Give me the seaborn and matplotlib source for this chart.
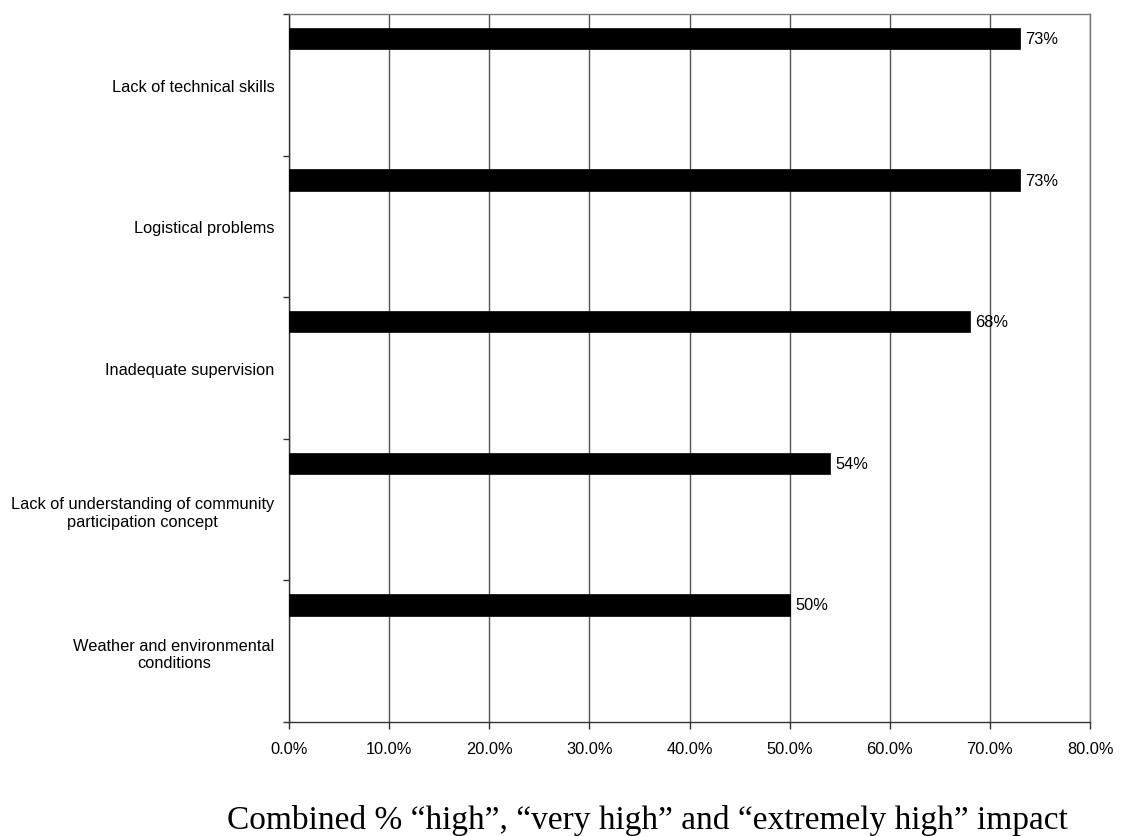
import numpy as np
import pandas as pd
import matplotlib
matplotlib.use("Agg")
import matplotlib.pyplot as plt
import seaborn as sns
from matplotlib.ticker import FixedLocator, NullFormatter

# Survey results: share of respondents rating each constraint's impact
categories = [
    "Lack of technical skills",
    "Logistical problems",
    "Inadequate supervision",
    "Lack of understanding of community\nparticipation concept",
    "Weather and environmental\nconditions",
]
impact_pct = [73, 73, 68, 54, 50]
x_ticks = [0, 10, 20, 30, 40, 50, 60, 70, 80]
x_tick_labels = [f"{v:.1f}%" for v in x_ticks]
x_title = "Combined % \u201chigh\u201d, \u201cvery high\u201d and \u201cextremely high\u201d impact"

sns.set_style("white")
plt.rcParams["font.family"] = ["Liberation Sans", "DejaVu Sans"]
plt.rcParams["text.color"] = "black"
plt.rcParams["xtick.color"] = "black"
plt.rcParams["ytick.color"] = "black"

df = pd.DataFrame({"category": categories, "pct": impact_pct})

fig = plt.figure(figsize=(11.21, 8.37), dpi=100)
ax = fig.add_axes([289 / 1121, 1 - 723 / 837, (1090 - 289) / 1121, (723 - 15) / 837])

# Thin bars sitting in the upper part of each category band
bar_h = 0.15
sns.barplot(data=df, x="pct", y="category", orient="h", color="black",
            width=bar_h, saturation=1, edgecolor="black", linewidth=0.5,
            ax=ax, zorder=3)

for cont in ax.containers:
    ax.bar_label(cont, labels=[f"{v:.0f}%" for v in impact_pct],
                 padding=4, fontsize=11.8, color="black")

# Band layout: each bar centred 0.327 band-heights above the band centre
shift = 0.327
n = len(categories)
ax.set_ylim(n - 0.5 + shift, -0.5 + shift)
band_edges = np.arange(n + 1) - 0.5 + shift
label_pos = np.arange(n) + shift
ax.yaxis.set_major_locator(FixedLocator(band_edges))
ax.yaxis.set_major_formatter(NullFormatter())
ax.set_yticks(label_pos, minor=True)
ax.set_yticklabels(categories, minor=True, fontsize=11.8, ha="right",
                   multialignment="center", color="black")
ax.tick_params(axis="y", which="major", direction="out", length=4, width=1,
               color="#333333", left=True)
ax.tick_params(axis="y", which="minor", length=0, pad=10.5)

ax.set_xlim(0, 80)
ax.set_xticks(x_ticks)
ax.set_xticklabels(x_tick_labels, fontsize=11.8, color="black")
ax.tick_params(axis="x", direction="out", length=5, width=1, color="#333333",
               pad=9, bottom=True)

ax.grid(axis="x", color="#555555", linewidth=1.0, zorder=0)
ax.grid(axis="y", visible=False)
ax.set_axisbelow(True)
ax.set_xlabel("")
ax.set_ylabel("")

for side in ["left", "bottom"]:
    ax.spines[side].set_color("#333333")
    ax.spines[side].set_linewidth(1.0)
    ax.spines[side].set_visible(True)
for side in ["top", "right"]:
    ax.spines[side].set_color("#777777")
    ax.spines[side].set_linewidth(1.0)
    ax.spines[side].set_visible(True)

fig.text(647 / 1121, 1 - 821 / 837, x_title, ha="center", va="center",
         fontsize=24, color="black", family=["Liberation Serif", "DejaVu Serif"])

fig.savefig("out.png", dpi=100, facecolor="white")
